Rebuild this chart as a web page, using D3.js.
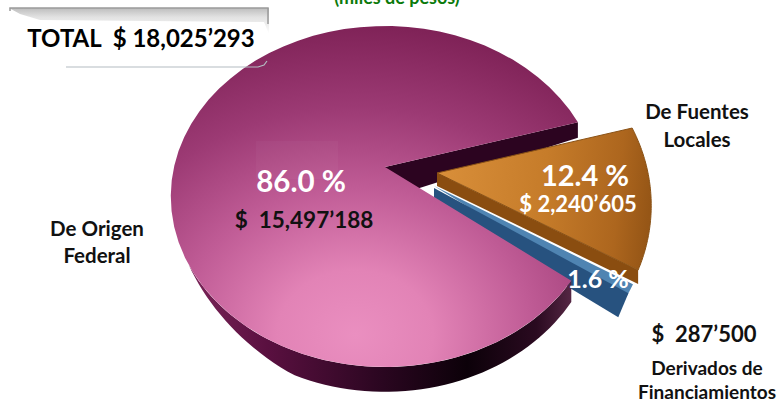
<!DOCTYPE html>
<html><head><meta charset="utf-8">
<script src="https://cdn.jsdelivr.net/npm/d3@7"></script>
<style>html,body{margin:0;padding:0;background:#fff}svg{display:block}text{font-family:Lato,"Open Sans",sans-serif;font-weight:700}</style>
</head><body><div id="c"></div>
<script>
const categories=["De Origen Federal","De Fuentes Locales","Derivados de Financiamientos"];
const values=[15497188,2240605,287500];
const percentLabels=["86.0 %","12.4 %","1.6 %"];
const amountLabels=["$  15,497’188","$ 2,240’605","$  287’500"];
const totalLabel="TOTAL  $ 18,025’293";
const unitLabel="(miles de pesos)";

const W=779,H=402;
const svg=d3.select("#c").append("svg").attr("width",W).attr("height",H);
const defs=svg.append("defs");
function grad(id,type,attrs,stops){
  const g=defs.append(type).attr("id",id).attr("gradientUnits","userSpaceOnUse");
  Object.entries(attrs).forEach(([k,v])=>g.attr(k,v));
  stops.forEach(([o,c])=>g.append("stop").attr("offset",o).attr("stop-color",c));
}
grad("face","radialGradient",{cx:355,cy:335,r:325,gradientTransform:"translate(355 335) scale(1.2 1) translate(-355 -335)"},
  [[0,"#ea8fc0"],[.2,"#e283b6"],[.45,"#c05c96"],[.7,"#9c3a74"],[1,"#7a1e52"]]);
grad("wall","linearGradient",{x1:190,y1:0,x2:575,y2:0},[[0,"#7a2458"],[.2,"#5a1040"],[.5,"#2a0620"],[.72,"#0c0109"],[.9,"#2a0a20"],[1,"#5a2a48"]]);
grad("orange","linearGradient",{x1:437,y1:180,x2:650,y2:200},[[0,"#d98f3a"],[.5,"#c67c2a"],[.85,"#ad661e"],[1,"#965616"]]);
grad("cream","linearGradient",{x1:0,y1:8,x2:0,y2:34},[[0,"#bdbdbd"],[.35,"#e2e2e2"],[1,"#ffffff"]]);

// perspective disc: apex of the pie and projection of the unit circle
const apex=[385,167], rx=211, ry=165.4, persp=-.173, baseDepth=17;
const w=a=>1+persp*Math.sin(a);
const proj=(a,off=[0,0],dz=0,sy=1)=>{
  const s=w(a);
  return [apex[0]+off[0]+rx*Math.cos(a)/s, apex[1]+off[1]+sy*ry*Math.sin(a)/s+dz*baseDepth/(s*s)];
};
const pad=1.5*Math.PI/180;
const pieAngles=d3.pie().sort(null).value(d=>d).padAngle(pad)
  .startAngle(127.9*Math.PI/180).endAngle((127.9+360)*Math.PI/180)(values)
  .map(d=>({a0:d.startAngle-Math.PI/2,a1:d.endAngle-pad-Math.PI/2}));
const arcPts=(a0,a1,off,dz,sy)=>d3.range(0,61).map(i=>{
  const a=a0+(a1-a0)*i/60;
  return proj(a,off,typeof dz==="function"?dz(a):dz,sy);
});
const line=d3.line().curve(d3.curveLinear);
const at=(off)=>[apex[0]+off[0],apex[1]+off[1]];

const [mainA,orA,blA]=pieAngles;
const orOff=[52,6], blOff=[49,19], orSy=1.1, blSy=1.06;

// back cut wall of the main slice
svg.append("path").attr("fill","#2c0420")
  .attr("d",line([at([0,0]),proj(mainA.a1),proj(mainA.a1,[0,0],1),[apex[0],apex[1]+32]])+"Z");

// orange slice: wall on the cut edge, then face
const orEnd=proj(orA.a1,orOff,0,orSy);
svg.append("path").attr("fill","#8a4d10")
  .attr("d",line([at(orOff),orEnd,[orEnd[0],orEnd[1]+14],[at(orOff)[0],at(orOff)[1]+13]])+"Z");
svg.append("path").attr("fill","url(#orange)").attr("stroke","#8a5216").attr("stroke-width",1)
  .attr("d",line([at(orOff),...arcPts(orA.a0,orA.a1,orOff,0,orSy)])+"Z");

// blue slice: thin lit face, with the dark wall covering the rest of it
const blTop=[at(blOff),...arcPts(blA.a0,blA.a1,blOff,0,blSy)];
svg.append("path").attr("fill","#4f84b2").attr("d",line(blTop)+"Z");
const blMid=proj(blA.a0+.5*(blA.a1-blA.a0),blOff,0,blSy);
const blFoot=proj(blA.a1,blOff,.72,blSy);
svg.append("path").attr("fill","#27527f")
  .attr("d",line([[at(blOff)[0],at(blOff)[1]+2],blMid,[blFoot[0]-5,blFoot[1]],[at(blOff)[0],at(blOff)[1]+20]])+"Z");

// main slice: side wall (tapering towards the left) and face
const wallStart=Math.PI*.82;
const taper=a=>Math.min(1,Math.max(0,(wallStart-a)/(Math.PI*.2)));
svg.append("path").attr("fill","url(#wall)")
  .attr("d",line([...arcPts(mainA.a0,wallStart,[0,0],0),...arcPts(mainA.a0,wallStart,[0,0],taper).reverse()])+"Z");
svg.append("path").attr("fill","url(#face)")
  .attr("d",line([at([0,0]),...arcPts(mainA.a0,mainA.a1,[0,0],0)])+"Z");

// faint lighter patch behind the main label
svg.append("rect").attr("x",256).attr("y",141).attr("width",82).attr("height",38).attr("fill","#fff").attr("opacity",.03);

// total callout
const callout=d3.line();
svg.append("path").attr("fill","url(#cream)")
  .attr("d",callout([[9,8],[269,8],[269,34],[264,22],[40,20],[20,14]])+"Z");
svg.append("path").attr("fill","none").attr("stroke","#9a9a9a").attr("stroke-width",1.5)
  .attr("d",callout([[10,11],[10,8],[268,8],[268,24]]));
svg.append("path").attr("fill","none").attr("stroke","#b4bcc2").attr("stroke-width",1.2)
  .attr("d",callout([[66,67],[250,67],[258,67],[264,65],[267,61]]));

function label(t,x,y,size,fill,anchor="middle"){
  svg.append("text").attr("x",x).attr("y",y).attr("font-size",size).attr("fill",fill)
    .attr("text-anchor",anchor).attr("xml:space","preserve").style("white-space","pre").text(t);
}
label(unitLabel,397,4,18,"#0b7a0b");
label(totalLabel,141,47,24,"#000");
label("De Fuentes",697,119,20.5,"#111");
label("Locales",697,147,20.5,"#111");
label(percentLabels[0],301,192,29.5,"#fff");
label(amountLabels[0],304,228,22.5,"#111");
label(percentLabels[1],585,186,29,"#fff");
label(amountLabels[1],578,212,22,"#fff");
label(percentLabels[2],598,288,25,"#fff");
label("De Origen",97,236,20.5,"#111");
label("Federal",97,263,20.5,"#111");
label(amountLabels[2],704,342,22,"#111");
label("Derivados de",707,375,19,"#111");
label("Financiamientos",707,399,19,"#111");
</script></body></html>
